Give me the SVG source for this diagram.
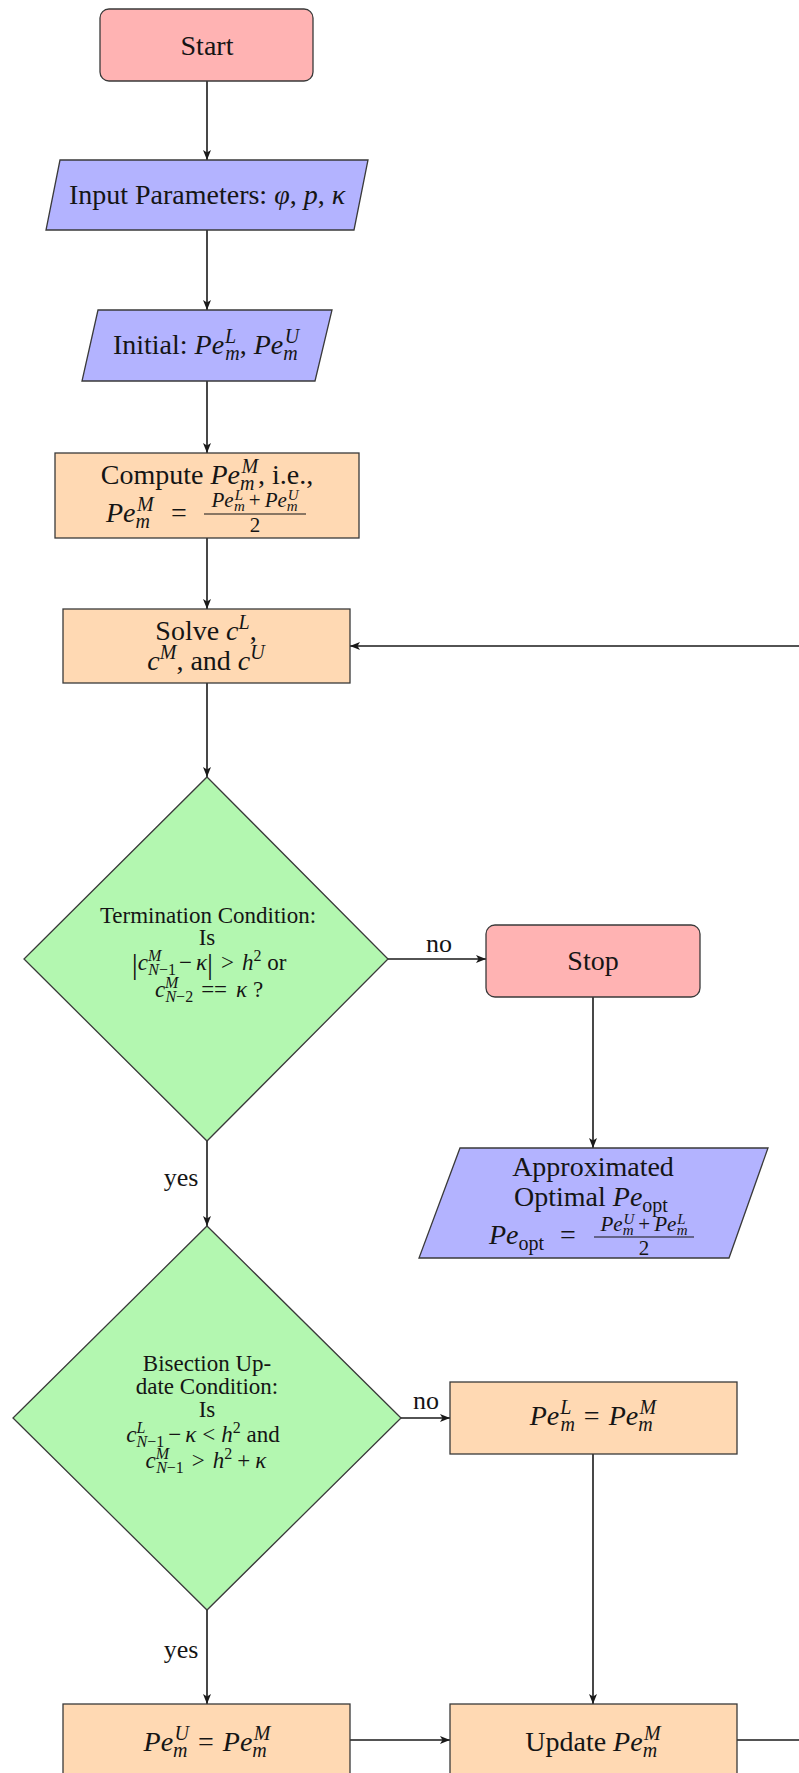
<svg xmlns="http://www.w3.org/2000/svg" width="799" height="1773" viewBox="0 0 799 1773">
<defs>
<marker id="ah" viewBox="0 0 10 8" refX="10" refY="4" markerWidth="10" markerHeight="8" markerUnits="userSpaceOnUse" orient="auto">
<path d="M0,0 L10,4 L0,8 L2.5,4 z" fill="#1a1a1a"/>
</marker>
<style>
.t{font-family:"Liberation Serif","Times New Roman",serif;font-size:28px;fill:#151515}
.d{font-family:"Liberation Serif","Times New Roman",serif;font-size:23px;fill:#151515}
.lbl{font-family:"Liberation Serif","Times New Roman",serif;font-size:26px;fill:#151515}
.i{font-style:italic}
.s{font-size:20px}
.ds{font-size:16px}
.n{font-family:"Liberation Serif","Times New Roman",serif;font-size:21px;fill:#151515}
.ns{font-size:15px}
.bar{font-size:30px}
.term{fill:#ffb3b3;stroke:#3a3a3a;stroke-width:1.3}
.io{fill:#b3b3ff;stroke:#3a3a3a;stroke-width:1.3}
.proc{fill:#ffd9b3;stroke:#3a3a3a;stroke-width:1.3}
.dec{fill:#b3f7b0;stroke:#3a3a3a;stroke-width:1.3}
.c{fill:none;stroke:#1a1a1a;stroke-width:1.6}
.fb{stroke:#151515;stroke-width:1.1}
</style>
</defs>
<rect width="799" height="1773" fill="#ffffff"/>

<g id="connectors">
<line class="c" x1="207" y1="81" x2="207" y2="160" marker-end="url(#ah)"/>
<line class="c" x1="207" y1="230" x2="207" y2="310" marker-end="url(#ah)"/>
<line class="c" x1="207" y1="381" x2="207" y2="453" marker-end="url(#ah)"/>
<line class="c" x1="207" y1="538" x2="207" y2="609" marker-end="url(#ah)"/>
<line class="c" x1="207" y1="683" x2="207" y2="777" marker-end="url(#ah)"/>
<line class="c" x1="388" y1="959" x2="486" y2="959" marker-end="url(#ah)"/>
<line class="c" x1="593" y1="997" x2="593" y2="1148" marker-end="url(#ah)"/>
<line class="c" x1="207" y1="1141" x2="207" y2="1226" marker-end="url(#ah)"/>
<line class="c" x1="401" y1="1418" x2="450" y2="1418" marker-end="url(#ah)"/>
<line class="c" x1="593" y1="1454" x2="593" y2="1704" marker-end="url(#ah)"/>
<line class="c" x1="207" y1="1610" x2="207" y2="1704" marker-end="url(#ah)"/>
<line class="c" x1="350" y1="1740" x2="450" y2="1740" marker-end="url(#ah)"/>
<line class="c" x1="737" y1="1740" x2="799" y2="1740"/>
<line class="c" x1="799" y1="646" x2="350" y2="646" marker-end="url(#ah)"/>
<text class="lbl" x="439" y="952" text-anchor="middle">no</text>
<text class="lbl" x="181" y="1186" text-anchor="middle">yes</text>
<text class="lbl" x="426" y="1409" text-anchor="middle">no</text>
<text class="lbl" x="181" y="1658" text-anchor="middle">yes</text>
</g>

<g id="start">
<rect class="term" x="100" y="9" width="213" height="72" rx="9"/>
<text class="t" x="207" y="55" text-anchor="middle">Start</text>
</g>

<g id="input">
<polygon class="io" points="60,160 368,160 354,230 46,230"/>
<text class="t" x="207" y="204" text-anchor="middle">Input Parameters: <tspan class="i">φ</tspan>, <tspan class="i">p</tspan>, <tspan class="i">κ</tspan></text>
</g>

<g id="initial">
<polygon class="io" points="98,310 332,310 315,381 82,381"/>
<text class="t" x="206" y="354" text-anchor="middle">Initial: <tspan class="i">Pe</tspan><tspan class="i s" dx="1" dy="-11">L</tspan><tspan class="i s" dx="-11" dy="17">m</tspan><tspan dy="-6">, </tspan><tspan class="i">Pe</tspan><tspan class="i s" dy="6">m</tspan><tspan class="i s" dx="-13" dy="-17">U</tspan></text>
</g>

<g id="compute">
<rect class="proc" x="55" y="453" width="304" height="85"/>
<text class="t" x="207" y="484" text-anchor="middle">Compute <tspan class="i">Pe</tspan><tspan class="i s" dy="6">m</tspan><tspan class="i s" dx="-13" dy="-17">M</tspan><tspan dy="11">, i.e.,</tspan></text>
<text class="t" x="106" y="522"><tspan class="i">Pe</tspan><tspan class="i s" dy="6">m</tspan><tspan class="i s" dx="-13" dy="-17">M</tspan></text>
<text class="t" x="171" y="522">=</text>
<text class="n" x="255" y="507" text-anchor="middle"><tspan class="i">Pe</tspan><tspan class="i ns" dx="1" dy="-7">L</tspan><tspan class="i ns" dx="-9" dy="11">m</tspan><tspan dx="4" dy="-4">+</tspan><tspan class="i" dx="4">Pe</tspan><tspan class="i ns" dy="4">m</tspan><tspan class="i ns" dx="-10" dy="-11">U</tspan></text>
<line class="fb" x1="204" y1="514" x2="306" y2="514"/>
<text class="n" x="255" y="532" text-anchor="middle">2</text>
</g>

<g id="solve">
<rect class="proc" x="63" y="609" width="287" height="74"/>
<text class="t" x="206" y="640" text-anchor="middle">Solve <tspan class="i">c</tspan><tspan class="i s" dy="-11">L</tspan><tspan dy="11">,</tspan></text>
<text class="t" x="206" y="670" text-anchor="middle"><tspan class="i">c</tspan><tspan class="i s" dy="-11">M</tspan><tspan dy="11">, and </tspan><tspan class="i">c</tspan><tspan class="i s" dy="-11">U</tspan></text>
</g>

<g id="termination">
<polygon class="dec" points="207,777 388,959 207,1141 24,959"/>
<text class="d" x="208" y="923" text-anchor="middle">Termination Condition:</text>
<text class="d" x="207" y="945" text-anchor="middle">Is</text>
<text class="d" x="209" y="970" text-anchor="middle"><tspan class="bar" dy="4">|</tspan><tspan class="i" dy="-4">c</tspan><tspan class="i ds" dy="-9">M</tspan><tspan class="ds" dx="-13" dy="14"><tspan class="i">N</tspan>−1</tspan><tspan dy="-5" dx="3">−</tspan><tspan class="i" dx="4">κ</tspan><tspan class="bar" dy="4">|</tspan><tspan dy="-4" dx="8">&gt;</tspan><tspan class="i" dx="8">h</tspan><tspan class="ds" dy="-9">2</tspan><tspan dy="9"> or</tspan></text>
<text class="d" x="209" y="997" text-anchor="middle"><tspan class="i">c</tspan><tspan class="i ds" dy="-9">M</tspan><tspan class="ds" dx="-13" dy="14"><tspan class="i">N</tspan>−2</tspan><tspan dy="-5" dx="8">==</tspan><tspan class="i" dx="9">κ</tspan><tspan> ?</tspan></text>
</g>

<g id="stop">
<rect class="term" x="486" y="925" width="214" height="72" rx="9"/>
<text class="t" x="593" y="970" text-anchor="middle">Stop</text>
</g>

<g id="approximated">
<polygon class="io" points="460,1148 768,1148 729,1258 419,1258"/>
<text class="t" x="593" y="1176" text-anchor="middle">Approximated</text>
<text class="t" x="591" y="1206" text-anchor="middle">Optimal <tspan class="i">Pe</tspan><tspan class="s" dy="6">opt</tspan></text>
<text class="t" x="489" y="1244"><tspan class="i">Pe</tspan><tspan class="s" dy="6">opt</tspan></text>
<text class="t" x="560" y="1244">=</text>
<text class="n" x="644" y="1231" text-anchor="middle"><tspan class="i">Pe</tspan><tspan class="i ns" dy="4">m</tspan><tspan class="i ns" dx="-10" dy="-11">U</tspan><tspan dx="4" dy="7">+</tspan><tspan class="i" dx="4">Pe</tspan><tspan class="i ns" dx="1" dy="-7">L</tspan><tspan class="i ns" dx="-9" dy="11">m</tspan></text>
<line class="fb" x1="594" y1="1237" x2="694" y2="1237"/>
<text class="n" x="644" y="1255" text-anchor="middle">2</text>
</g>

<g id="bisection">
<polygon class="dec" points="207,1226 401,1418 207,1610 13,1418"/>
<text class="d" x="207" y="1371" text-anchor="middle">Bisection Up-</text>
<text class="d" x="207" y="1394" text-anchor="middle">date Condition:</text>
<text class="d" x="207" y="1417" text-anchor="middle">Is</text>
<text class="d" x="203" y="1442" text-anchor="middle"><tspan class="i">c</tspan><tspan class="i ds" dy="-9">L</tspan><tspan class="ds" dx="-9" dy="14"><tspan class="i">N</tspan>−1</tspan><tspan dy="-5" dx="4">−</tspan><tspan class="i" dx="4">κ</tspan><tspan dx="6">&lt;</tspan><tspan class="i" dx="6">h</tspan><tspan class="ds" dy="-9">2</tspan><tspan dy="9"> and</tspan></text>
<text class="d" x="206" y="1468" text-anchor="middle"><tspan class="i">c</tspan><tspan class="i ds" dy="-9">M</tspan><tspan class="ds" dx="-13" dy="14"><tspan class="i">N</tspan>−1</tspan><tspan dy="-5" dx="8">&gt;</tspan><tspan class="i" dx="8">h</tspan><tspan class="ds" dy="-9">2</tspan><tspan dy="9" dx="5">+</tspan><tspan class="i" dx="5">κ</tspan></text>
</g>

<g id="set-lower">
<rect class="proc" x="450" y="1382" width="287" height="72"/>
<text class="t" x="593" y="1425" text-anchor="middle"><tspan class="i">Pe</tspan><tspan class="i s" dx="1" dy="-11">L</tspan><tspan class="i s" dx="-11" dy="17">m</tspan><tspan dy="-6" dx="9">=</tspan><tspan class="i" dx="9">Pe</tspan><tspan class="i s" dy="6">m</tspan><tspan class="i s" dx="-13" dy="-17">M</tspan></text>
</g>

<g id="set-upper">
<rect class="proc" x="63" y="1704" width="287" height="80"/>
<text class="t" x="207" y="1751" text-anchor="middle"><tspan class="i">Pe</tspan><tspan class="i s" dy="6">m</tspan><tspan class="i s" dx="-13" dy="-17">U</tspan><tspan dy="11" dx="9">=</tspan><tspan class="i" dx="9">Pe</tspan><tspan class="i s" dy="6">m</tspan><tspan class="i s" dx="-13" dy="-17">M</tspan></text>
</g>

<g id="update">
<rect class="proc" x="450" y="1704" width="287" height="80"/>
<text class="t" x="593" y="1751" text-anchor="middle">Update <tspan class="i">Pe</tspan><tspan class="i s" dy="6">m</tspan><tspan class="i s" dx="-13" dy="-17">M</tspan></text>
</g>
</svg>
